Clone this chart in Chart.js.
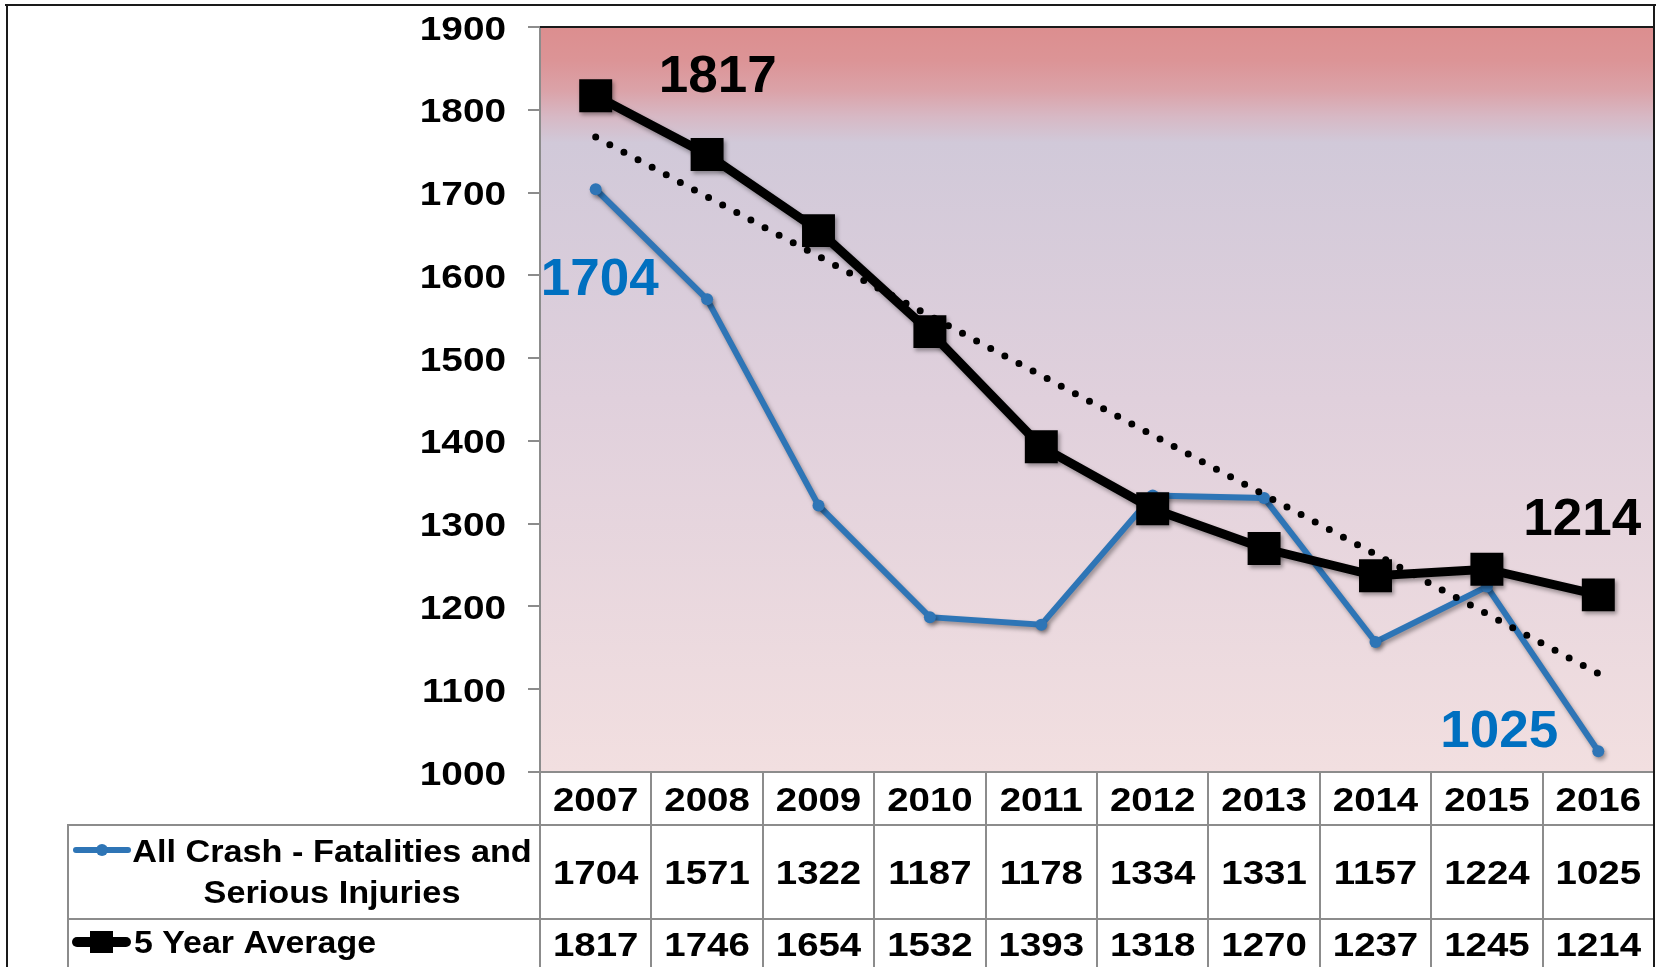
<!DOCTYPE html>
<html>
<head>
<meta charset="utf-8">
<script src="https://cdn.jsdelivr.net/npm/chart.js@4"></script>
<style>
html,body{margin:0;padding:0;background:#fff;overflow:hidden}
canvas{display:block}
</style>
</head>
<body>
<canvas id="c" width="1658" height="967"></canvas>
<script>
// ---- data ----
const years = ['2007','2008','2009','2010','2011','2012','2013','2014','2015','2016'];
const allCrash = [1704,1571,1322,1187,1178,1334,1331,1157,1224,1025];
const fiveYearAvg = [1817,1746,1654,1532,1393,1318,1270,1237,1245,1214];
const trendLine = [1767,null,null,null,null,null,null,null,null,1119];
const yTicks = [1000,1100,1200,1300,1400,1500,1600,1700,1800,1900];
const legendAllCrash = ['All Crash - Fatalities and','Serious Injuries'];
const legendAvg = '5 Year Average';

const BLUE = '#2E75B6';
const LABEL_BLUE = '#0070C0';
const GRID = '#8c8c8c';
const FAM = '"Liberation Sans", Arial, sans-serif';

function sText(ctx, text, x, y, align, sx, font, color){
  ctx.save();
  ctx.font = font; ctx.fillStyle = color || '#000';
  ctx.translate(x, y); ctx.scale(sx, 1);
  ctx.textAlign = align; ctx.textBaseline = 'alphabetic';
  ctx.fillText(text, 0, 0);
  ctx.restore();
}

const painter = {
  id: 'painter',
  beforeDraw(chart){
    const {ctx, chartArea:a} = chart;
    ctx.save();
    ctx.fillStyle = '#fff';
    ctx.fillRect(0, 0, chart.width, chart.height);
    const g = ctx.createLinearGradient(0, a.top, 0, a.bottom);
    g.addColorStop(0, 'rgb(220,142,143)');
    g.addColorStop(0.045, 'rgb(220,148,150)');
    g.addColorStop(0.085, 'rgb(219,162,168)');
    g.addColorStop(0.12, 'rgb(215,184,196)');
    g.addColorStop(0.155, 'rgb(209,201,217)');
    g.addColorStop(0.5, 'rgb(224,208,220)');
    g.addColorStop(1, 'rgb(242,223,224)');
    ctx.fillStyle = g;
    ctx.fillRect(a.left, a.top, a.right - a.left, a.bottom - a.top);
    ctx.restore();
  },
  beforeDatasetDraw(chart, args){
    const ds = chart.data.datasets[args.index];
    if (ds.shadow) {
      const ctx = chart.ctx;
      ctx.save();
      ctx.shadowColor = 'rgba(0,0,0,0.35)';
      ctx.shadowBlur = 4;
      ctx.shadowOffsetX = 2;
      ctx.shadowOffsetY = 3;
    }
  },
  afterDatasetDraw(chart, args){
    const ds = chart.data.datasets[args.index];
    if (ds.shadow) chart.ctx.restore();
  },
  afterDatasetsDraw(chart){
    const {ctx} = chart;
    const xs = chart.scales.x, ys = chart.scales.y;
    const big = 'bold 52px ' + FAM;
    const callouts = [
      {arr: fiveYearAvg, i: 0, dx: 122, dy: -4, color: '#000'},
      {arr: allCrash, i: 0, dx: 4, dy: 106, color: LABEL_BLUE},
      {arr: fiveYearAvg, i: 9, dx: -16, dy: -60, color: '#000'},
      {arr: allCrash, i: 9, dx: -99, dy: -4, color: LABEL_BLUE}
    ];
    callouts.forEach(c => {
      const px = xs.getPixelForValue(c.i);
      const py = ys.getPixelForValue(c.arr[c.i]);
      sText(ctx, String(c.arr[c.i]), px + c.dx, py + c.dy, 'center', 1.02, big, c.color);
    });
  },
  afterDraw(chart){
    const {ctx, chartArea:a} = chart;
    const xs = chart.scales.x, ys = chart.scales.y;
    const numFont = 'bold 34px ' + FAM;
    // y tick labels
    ys.ticks.forEach(t => {
      const y = ys.getPixelForValue(t.value);
      sText(ctx, String(t.value), 506, y + 12.5, 'right', 1.14, numFont, '#000');
    });
    // data table
    const n = years.length;
    const colW = (xs.right - xs.left) / n;
    const rowTop = [a.bottom, 825, 919];
    ctx.save();
    ctx.fillStyle = GRID;
    ctx.fillRect(528, a.bottom - 1, a.right - 528, 2);
    ctx.fillRect(68, rowTop[1] - 1, a.right - 68, 2);
    ctx.fillRect(68, rowTop[2] - 1, a.right - 68, 2);
    ctx.fillRect(67, rowTop[1] - 1, 2, chart.height - rowTop[1] + 1);
    for (let i = 0; i < n; i++) {
      const x = Math.round(xs.getPixelForValue(i) - colW / 2);
      ctx.fillRect(x - 1, a.bottom, 2, chart.height - a.bottom);
    }
    ctx.restore();
    for (let i = 0; i < n; i++) {
      const cx = xs.getPixelForValue(i);
      sText(ctx, years[i], cx, 811, 'center', 1.13, numFont, '#000');
      sText(ctx, String(allCrash[i]), cx, 884, 'center', 1.13, numFont, '#000');
      sText(ctx, String(fiveYearAvg[i]), cx, 956, 'center', 1.13, numFont, '#000');
    }
    // legend keys
    ctx.save();
    ctx.lineCap = 'round';
    ctx.strokeStyle = BLUE; ctx.lineWidth = 6;
    ctx.beginPath(); ctx.moveTo(76, 850); ctx.lineTo(128, 850); ctx.stroke();
    ctx.fillStyle = BLUE;
    ctx.beginPath(); ctx.arc(102, 850, 6, 0, Math.PI * 2); ctx.fill();
    ctx.strokeStyle = '#000'; ctx.lineWidth = 10;
    ctx.beginPath(); ctx.moveTo(77, 942); ctx.lineTo(126, 942); ctx.stroke();
    ctx.fillStyle = '#000';
    ctx.fillRect(90, 931, 23, 22);
    ctx.restore();
    const legFont = 'bold 32px ' + FAM;
    sText(ctx, legendAllCrash[0], 332, 862, 'center', 1.07, legFont, '#000');
    sText(ctx, legendAllCrash[1], 332, 903, 'center', 1.07, legFont, '#000');
    sText(ctx, legendAvg, 134, 953, 'left', 1.06, legFont, '#000');
    // frame
    ctx.save();
    ctx.fillStyle = '#1a1a1a';
    ctx.fillRect(5, 4, 1651, 2);
    ctx.fillRect(6, 4, 2, chart.height - 4);
    ctx.fillRect(1653, 4, 2, chart.height - 4);
    ctx.fillRect(a.left, a.top - 1, 1655 - a.left, 2);
    ctx.restore();
  }
};

new Chart(document.getElementById('c'), {
  type: 'line',
  data: {
    labels: years,
    datasets: [
      {
        label: 'Trend',
        data: trendLine,
        spanGaps: true,
        borderColor: '#000',
        borderWidth: 7,
        borderDash: [0, 16],
        borderCapStyle: 'round',
        pointRadius: 0,
        tension: 0,
        order: 0
      },
      {
        label: '5 Year Average',
        data: fiveYearAvg,
        borderColor: '#000',
        backgroundColor: '#000',
        borderWidth: 9,
        pointStyle: 'rect',
        pointRadius: 23.3,
        pointBorderWidth: 0,
        pointBackgroundColor: '#000',
        tension: 0,
        order: 1,
        shadow: true
      },
      {
        label: 'All Crash - Fatalities and Serious Injuries',
        data: allCrash,
        borderColor: BLUE,
        backgroundColor: BLUE,
        borderWidth: 6,
        pointRadius: 6,
        pointBorderWidth: 0,
        pointBackgroundColor: BLUE,
        tension: 0,
        order: 2,
        shadow: true
      }
    ]
  },
  options: {
    responsive: false,
    animation: false,
    devicePixelRatio: 1,
    layout: {autoPadding: false, padding: {left: 0, top: 27, right: 4, bottom: 195}},
    plugins: {legend: {display: false}, tooltip: {enabled: false}, title: {display: false}},
    scales: {
      x: {type: 'category', offset: true, display: false},
      y: {
        min: 1000, max: 1900,
        afterBuildTicks: (s) => { s.ticks = yTicks.map(v => ({value: v})); },
        afterFit: (s) => { s.width = 540; },
        ticks: {display: false},
        grid: {display: true, drawOnChartArea: false, drawTicks: true, tickLength: 12, color: GRID, lineWidth: 2},
        border: {display: true, color: GRID, width: 2}
      }
    }
  },
  plugins: [painter]
});
</script>
</body>
</html>
